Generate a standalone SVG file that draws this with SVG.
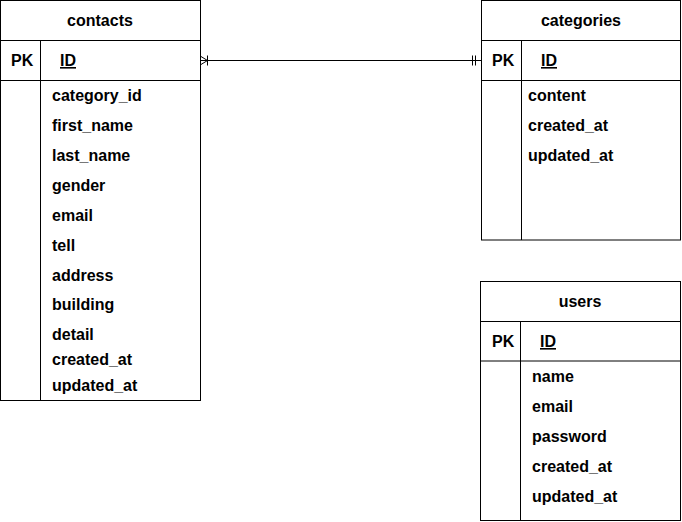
<svg xmlns="http://www.w3.org/2000/svg" width="682" height="522" viewBox="0 0 682 522">
<style>
.box{fill:#fff;stroke:#000;stroke-width:1}
.ln{stroke:#000;stroke-width:1;fill:none}
text{font-family:"Liberation Sans",Arial,sans-serif;font-size:16px;font-weight:bold;fill:#000}
.c{text-anchor:middle}
.u{text-decoration:underline}
</style>
<rect width="682" height="522" fill="#fff"/>
<g id="connectors">
<path class="ln" d="M201,60.5 H481"/>
<path class="ln" d="M207.5,55.5 V65.5 M201,56.5 L207.5,60.5 L201,64.5"/>
<path class="ln" d="M472.5,55.5 V65.5 M475.5,55.5 V65.5"/>
</g>
<g id="contacts">
<rect class="box" x="0.5" y="0.5" width="200" height="400"/>
<path class="ln" d="M0.5,40.5 H200.5 M0.5,80.5 H200.5 M40.5,40.5 V400.5"/>
<text class="c" x="100" y="26">contacts</text>
<text x="11" y="66">PK</text>
<text class="u" x="60" y="66">ID</text>
<text x="52" y="101">category_id</text>
<text x="52" y="131">first_name</text>
<text x="52" y="161">last_name</text>
<text x="52" y="191">gender</text>
<text x="52" y="221">email</text>
<text x="52" y="251">tell</text>
<text x="52" y="281">address</text>
<text x="52" y="310">building</text>
<text x="52" y="340">detail</text>
<text x="52" y="365">created_at</text>
<text x="52" y="391">updated_at</text>
</g>
<g id="categories">
<rect class="box" x="481.5" y="0.5" width="199" height="239.5"/>
<path class="ln" d="M481.5,40.5 H680.5 M481.5,80.5 H680.5 M521.5,40.5 V240"/>
<text class="c" x="581" y="26">categories</text>
<text x="492" y="66">PK</text>
<text class="u" x="541" y="66">ID</text>
<text x="528" y="101">content</text>
<text x="528" y="131">created_at</text>
<text x="528" y="161">updated_at</text>
</g>
<g id="users">
<rect class="box" x="480.5" y="281.5" width="200" height="239"/>
<path class="ln" d="M480.5,321.5 H680.5 M480.5,361 H680.5 M520.5,321.5 V520.5"/>
<text class="c" x="580" y="307">users</text>
<text x="492" y="347">PK</text>
<text class="u" x="540" y="347">ID</text>
<text x="532" y="382">name</text>
<text x="532" y="412">email</text>
<text x="532" y="442">password</text>
<text x="532" y="472">created_at</text>
<text x="532" y="502">updated_at</text>
</g>
</svg>
